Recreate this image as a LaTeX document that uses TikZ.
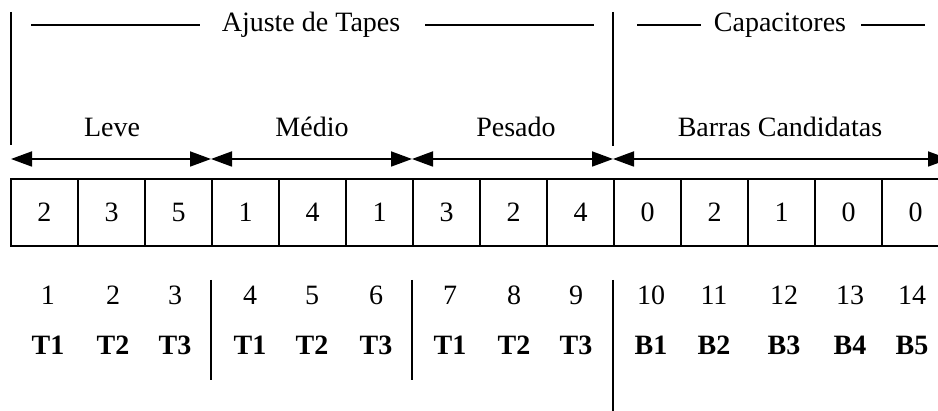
\documentclass[tikz,border=0pt]{standalone}
\usepackage{fontspec}
\setmainfont{Liberation Serif}
\usetikzlibrary{arrows.meta,calc}

\tikzset{
  txt/.style={font=\fontsize{28}{34}\selectfont, inner sep=0pt, anchor=base},
  boldtxt/.style={txt, font=\fontsize{28}{34}\selectfont\bfseries},
  cell/.style={draw, line width=1.8pt, minimum width=67pt, minimum height=67pt,
    inner sep=0pt, font=\fontsize{28}{34}\selectfont},
  rule/.style={line width=1.8pt},
  span/.style={line width=1.8pt, {Triangle[length=21pt,width=15pt]}-{Triangle[length=21pt,width=15pt]}},
}

\begin{document}
\begin{tikzpicture}[x=1pt,y=-1pt]
\useasboundingbox (0,0) rectangle (938,411);
\clip (0,0) rectangle (938,411);

% the chromosome: fourteen genes
\foreach \v [count=\i] in {2,3,5,1,4,1,3,2,4,0,2,1,0,0}
  \node[cell] (c\i) at ({11+67*(\i-0.5)},212.5) {\v};

% group headings
\node[txt] (ajuste) at (311,32) {Ajuste de Tapes};
\node[txt] (capac) at (780,32) {Capacitores};
\coordinate (aj1) at (31,25);  \coordinate (aj2) at (200,25);
\coordinate (aj3) at (425,25); \coordinate (aj4) at (594,25);
\coordinate (ca1) at (637,25); \coordinate (ca2) at (701,25);
\coordinate (ca3) at (861,25); \coordinate (ca4) at (925,25);
\draw[rule] (aj1) -- (aj2);
\draw[rule] (aj3) -- (aj4);
\draw[rule] (ca1) -- (ca2);
\draw[rule] (ca3) -- (ca4);

% vertical dividers at the top
\coordinate (vl1) at (11,12);  \coordinate (vl2) at (11,145);
\coordinate (vm1) at (613,12); \coordinate (vm2) at (613,146);
\draw[rule] (vl1) -- (vl2);
\draw[rule] (vm1) -- (vm2);

% load level labels
\node[txt] (leve) at (112,137) {Leve};
\node[txt] (medio) at (312,137) {Médio};
\node[txt] (pesado) at (516,137) {Pesado};
\node[txt] (barras) at (780,137) {Barras Candidatas};

% span arrows above the genes
\coordinate (s0) at (11,159);
\coordinate (s1) at (211,159);
\coordinate (s2) at (412,159);
\coordinate (s3) at (613,159);
\coordinate (s4) at (949,159);
\draw[span] (s0) -- (s1);
\draw[span] (s1) -- (s2);
\draw[span] (s2) -- (s3);
\draw[span] (s3) -- (s4);

% gene indices and meanings
\foreach \x/\n/\t [count=\i] in {48/1/T1, 113/2/T2, 175/3/T3, 250/4/T1, 312/5/T2, 376/6/T3,
    450/7/T1, 514/8/T2, 576/9/T3, 651/10/B1, 714/11/B2, 784/12/B3, 850/13/B4, 912/14/B5} {
  \node[txt] (n\i) at (\x,305) {\n};
  \node[boldtxt] (t\i) at (\x,355) {\t};
}

% dividers between groups at the bottom
\coordinate (b1a) at (211,280); \coordinate (b1b) at (211,380);
\coordinate (b2a) at (412,280); \coordinate (b2b) at (412,380);
\coordinate (b3a) at (613,280); \coordinate (b3b) at (613,415);
\draw[rule] (b1a) -- (b1b);
\draw[rule] (b2a) -- (b2b);
\draw[rule] (b3a) -- (b3b);
\end{tikzpicture}
\end{document}
